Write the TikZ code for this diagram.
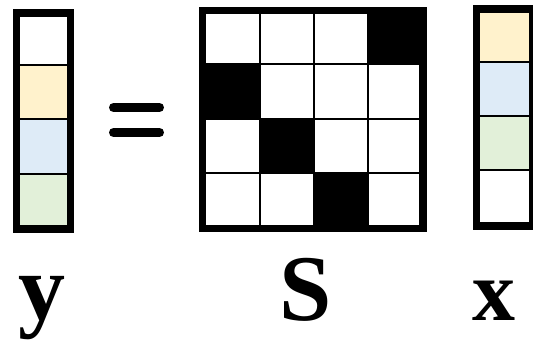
\documentclass[tikz,border=0pt]{standalone}
\usepackage{fontspec}
\setmainfont{Liberation Serif}
\definecolor{cyell}{HTML}{FFF2CC}
\definecolor{cblue}{HTML}{DEEBF7}
\definecolor{cgreen}{HTML}{E2F0D9}
\tikzset{
  frame/.style={draw=black, line width=7.5pt},
  gridline/.style={draw=black, line width=2pt},
  eqbar/.style={draw=black, line width=9pt, line cap=round},
  lbl/.style={anchor=base, inner sep=0pt, font=\bfseries}
}
\begin{document}
\begin{tikzpicture}[x=1pt, y=-1pt]
\useasboundingbox (0,0) rectangle (533,342);
% ---- y vector
\fill[white]  (16.7,12.8) rectangle (70.3,65);
\fill[cyell]  (16.7,65)   rectangle (70.3,119.5);
\fill[cblue]  (16.7,119.5) rectangle (70.3,174);
\fill[cgreen] (16.7,174)  rectangle (70.3,229);
\draw[gridline] (16.7,65) -- (70.3,65);
\draw[gridline] (16.7,119.5) -- (70.3,119.5);
\draw[gridline] (16.7,174) -- (70.3,174);
\draw[frame] (16.7,12.8) rectangle (70.3,229);
% ---- equals
\draw[eqbar] (113.5,107.5) -- (159.5,107.5);
\draw[eqbar] (113.5,132.5) -- (159.5,132.5);
% ---- S matrix
\fill[white] (202.5,10.7) rectangle (423,228.3);
\fill[black] (368.3,10.7) rectangle (423,64.2);
\fill[black] (202.5,64.2) rectangle (260,118.7);
\fill[black] (260,118.7) rectangle (314.3,173);
\fill[black] (314.3,173) rectangle (368.3,228.3);
\foreach \xx in {260,314.3,368.3} \draw[gridline] (\xx,10.7) -- (\xx,228.3);
\foreach \yy in {64.2,118.7,173} \draw[gridline] (202.5,\yy) -- (423,\yy);
\draw[frame] (202.5,10.7) rectangle (423,228.3);
% ---- x vector
\fill[cyell]  (476.7,8.8)   rectangle (532.7,62.2);
\fill[cblue]  (476.7,62.2)  rectangle (532.7,115.8);
\fill[cgreen] (476.7,115.8) rectangle (532.7,170);
\fill[white]  (476.7,170)   rectangle (532.7,225.8);
\draw[gridline] (476.7,62.2) -- (532.7,62.2);
\draw[gridline] (476.7,115.8) -- (532.7,115.8);
\draw[gridline] (476.7,170) -- (532.7,170);
\draw[frame] (476.7,8.8) rectangle (532.7,225.8);
% ---- labels
\node[lbl, font=\bfseries\fontsize{94}{94}\selectfont] (ly) at (41.5,319) {y};
\node[lbl, font=\bfseries\fontsize{94}{94}\selectfont] (lS) at (306,320) {S};
\node[lbl, font=\bfseries\fontsize{86}{86}\selectfont] (lx) at (493.5,320) {x};
\end{tikzpicture}
\end{document}
